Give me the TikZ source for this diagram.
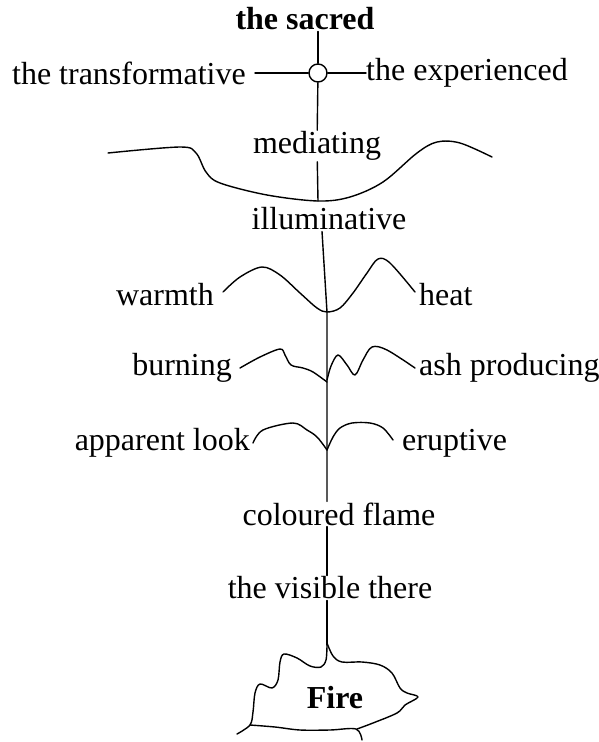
\documentclass[tikz,border=0pt]{standalone}
\usepackage{fontspec}
\setmainfont{Liberation Serif}
\usepackage{tikz}
\usetikzlibrary{positioning}
\tikzset{
  lbl/.style={font=\fontsize{32}{34}\selectfont, inner sep=1pt},
  blbl/.style={font=\fontsize{32}{34}\selectfont\bfseries, inner sep=1pt},
  stem/.style={line width=1.4pt},
  leaf/.style={line width=1.4pt, smooth, tension=0.55}
}

\begin{document}
\begin{tikzpicture}[x=1pt, y=-1pt, line join=round, line cap=round]
  \useasboundingbox (0,0) rectangle (599,742);
  % top cross
  \node[blbl] (sacred) at (305,19) {the sacred};
  \node[draw, stem, circle, minimum size=18pt, inner sep=0pt] (hub) at (318,73) {};
  \node[lbl, anchor=east] (transf) at (247,73) {the transformative};
  \node[lbl, anchor=west, inner sep=0pt] (exper) at (366,73) {the experienced};
  \node[lbl] (medi) at (317,146) {mediating};
  \node[lbl] (illum) at (329,219) {illuminative};
  % side labels
  \foreach \n/\p/\t in {warm/{215,295}/warmth, burn/{233,368}/burning, look/{251,443}/{apparent look}}
    \node[lbl, anchor=east] (\n) at (\p) {\t};
  \foreach \n/\p/\t in {heat/{418,295}/heat, ash/{418,368}/{ash producing}, erupt/{401,443}/eruptive}
    \node[lbl, anchor=west] (\n) at (\p) {\t};
  \node[lbl] (flame) at (339,514) {coloured flame};
  \node[lbl] (visible) at (330,588) {the visible there};
  \node[blbl] (fire) at (335,698) {Fire};

  \coordinate (m1) at (318,201);
  \coordinate (w1) at (327,312);
  \coordinate (b1) at (327,382);
  \coordinate (a1) at (327,450);
  \coordinate (f1) at (327,645);

  % stem
  \draw[stem] (318,0 |- sacred.south) -- (hub);
  \draw[stem] ([xshift=8pt]transf.east) -- (hub);
  \draw[stem] (hub) -- (exper.west);
  \draw[stem] (hub) -- (medi);
  \draw[stem] (medi) -- (m1);
  \draw[stem] ([xshift=-7pt]illum.south) -- (w1) -- (b1) -- (a1) -- (a1 |- flame.north);
  \draw[stem] (a1 |- flame.south) -- (a1 |- visible.north);
  \draw[stem] (a1 |- visible.south) -- (f1);

  % leaves
  \draw[leaf] plot coordinates {(108,153) (180,147) (196,153) (206,172) (220,183) (267,195) (318,201) (350,197) (383,182) (417,153) (437,142) (460,143) (492,157)};
  \draw[leaf] plot coordinates {(223,292) (240,277) (262,267) (280,275) (300,293) (317,308) (327,312) (340,308) (353,293) (367,273) (378,259) (390,263) (415,292)};
  \draw[leaf] plot coordinates {(240,368) (260,357) (280,349) (285,355) (291,365) (303,368) (313,372) (327,382)};
  \draw[leaf] plot coordinates {(327,380) (331,366) (338,355) (347,365) (355,375) (363,360) (372,347) (387,350) (415,368)};
  \draw[leaf] plot coordinates {(253,443) (263,430) (293,423) (307,430) (316,436) (322,443) (327,450)};
  \draw[leaf] plot coordinates {(327,450) (333,437) (340,428) (352,423) (370,423) (383,428) (393,440)};

  % fire outline
  \draw[leaf] plot coordinates {(327,645) (326,660) (321,667) (310,666) (297,658) (284,654) (280,662) (278,680) (272,688) (260,684) (255,693) (253,712) (250,725) (237,734)};
  \draw[leaf] plot coordinates {(250,725) (275,727) (300,730) (330,730) (356,729) (362,740)};
  \draw[leaf] plot coordinates {(327,643) (333,656) (342,662) (362,662) (380,665) (392,673) (400,688) (407,693) (418,697) (405,705) (397,713) (373,723) (357,729)};
\end{tikzpicture}
\end{document}
